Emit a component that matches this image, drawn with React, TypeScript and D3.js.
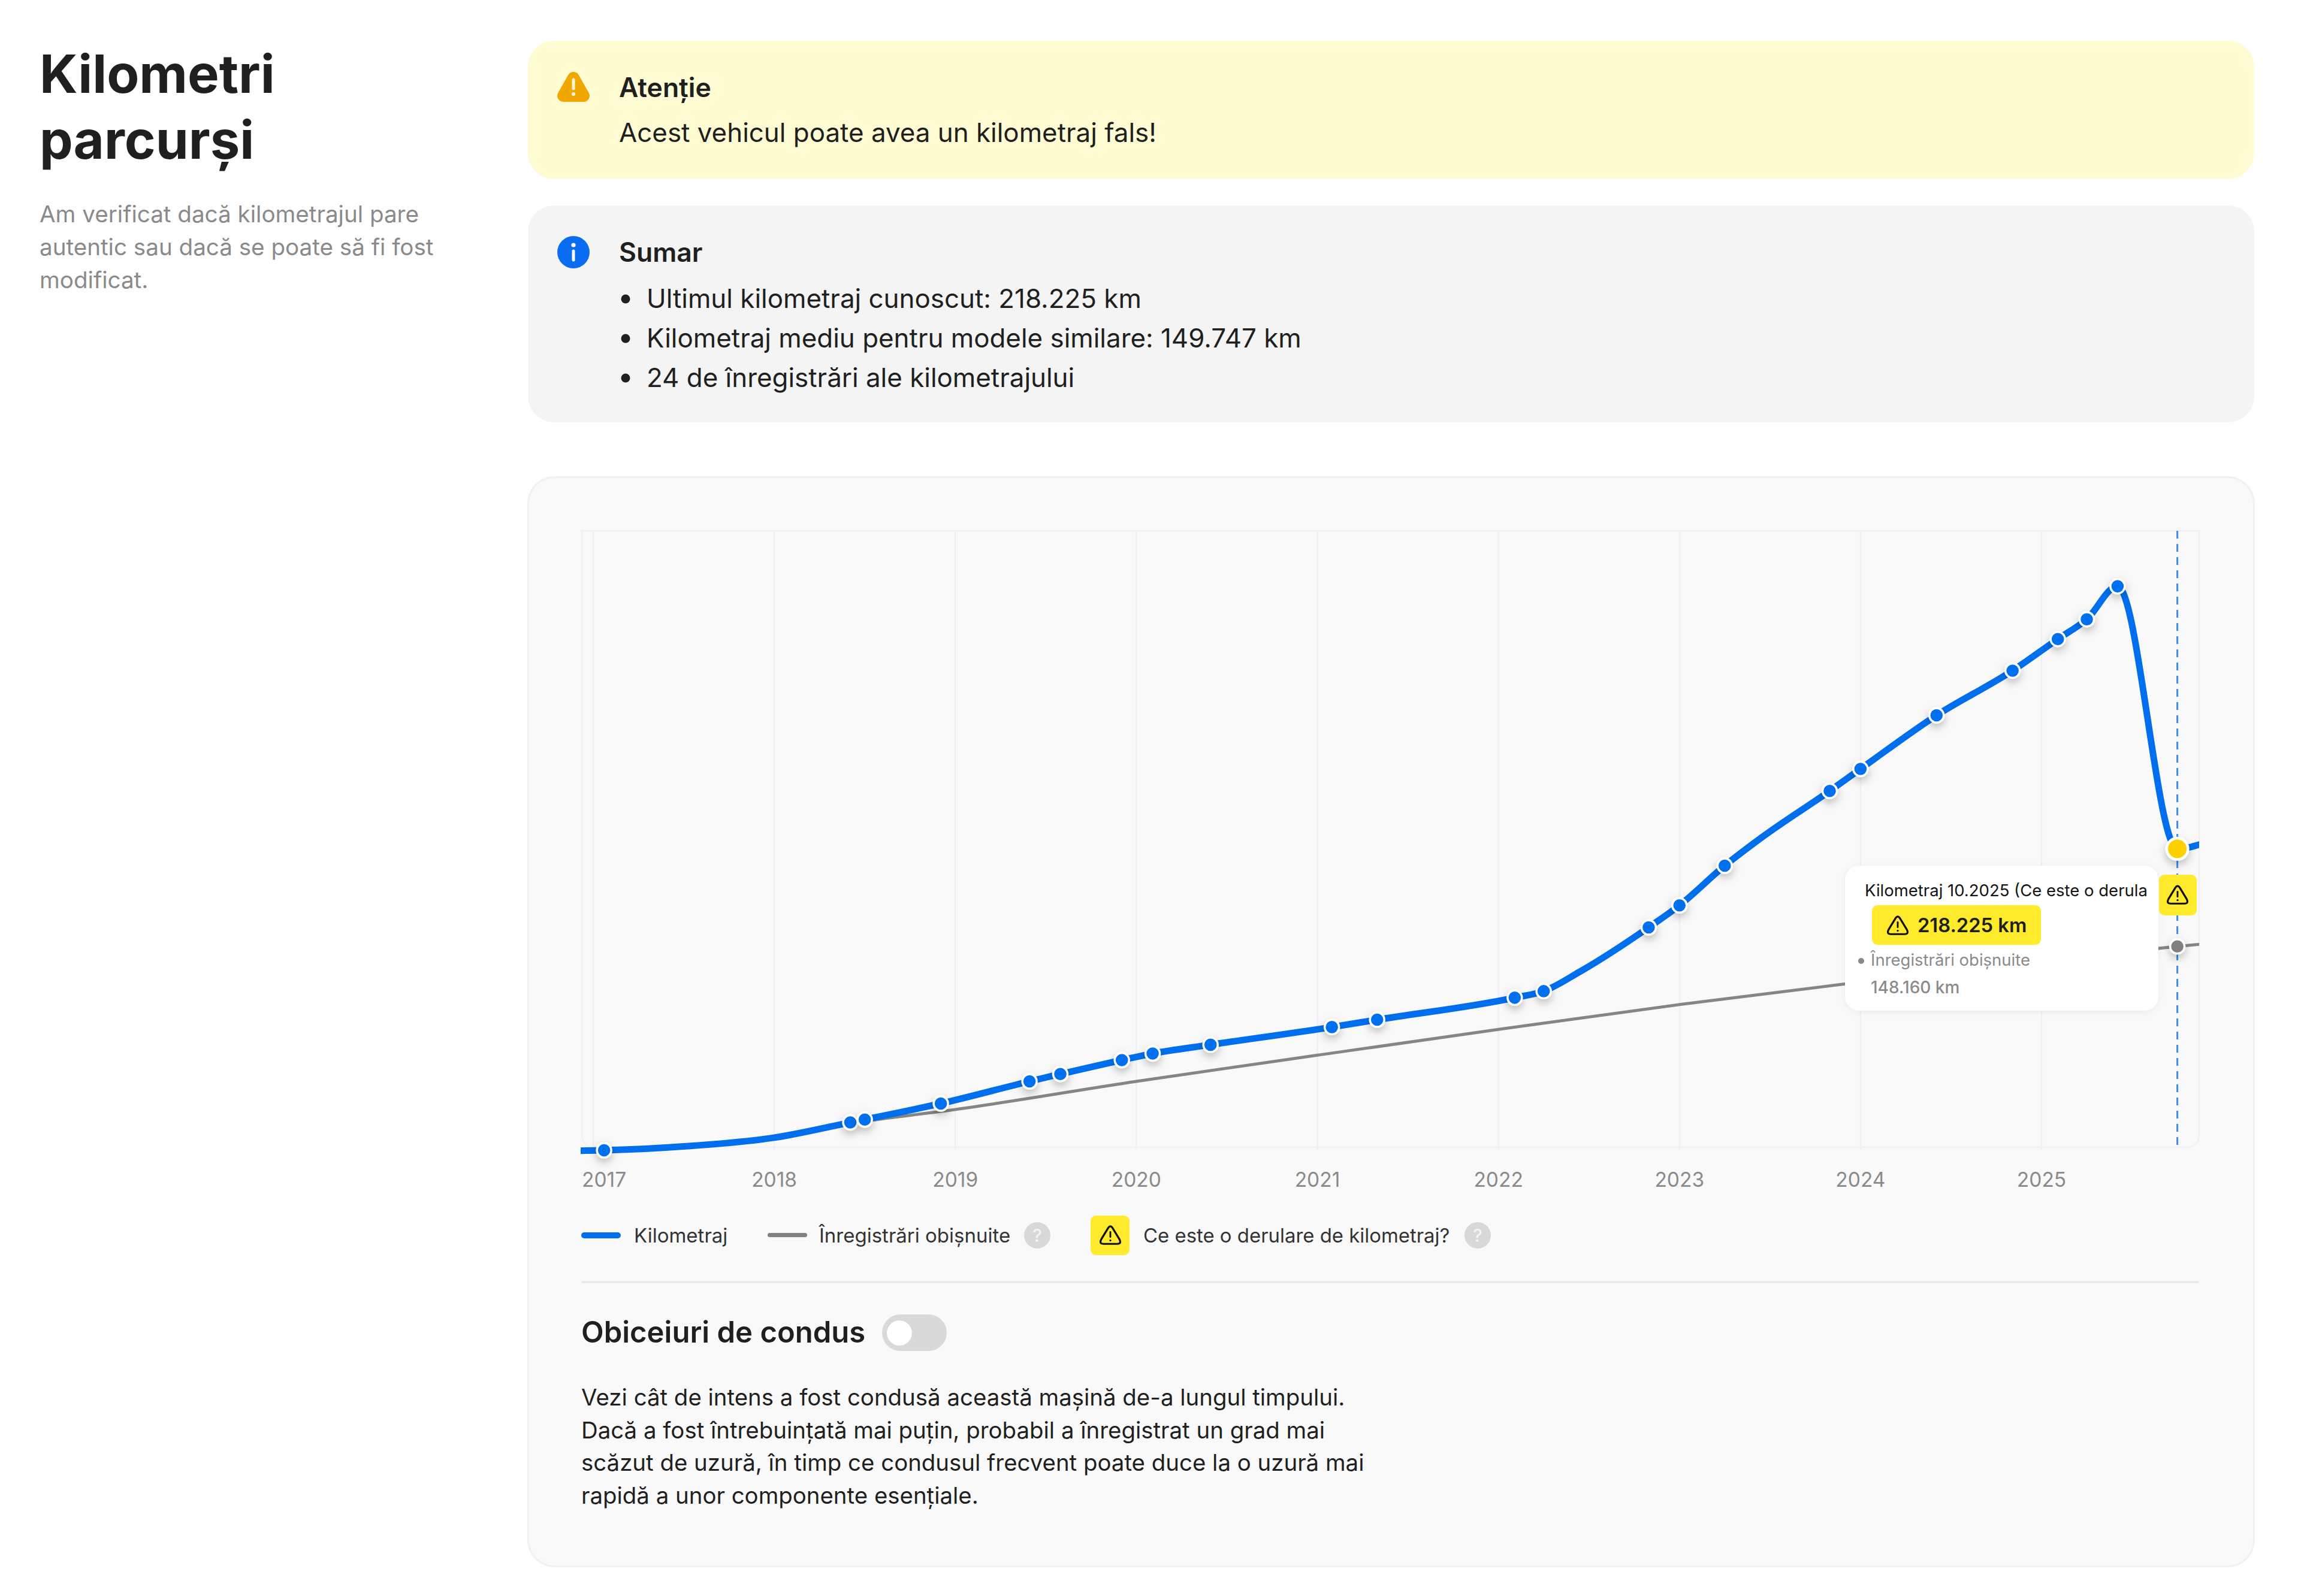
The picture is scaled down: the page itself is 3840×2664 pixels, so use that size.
import React from "react";
import * as d3 from "d3";

const pageTitle = ["Kilometri", "parcurși"];
const pageSubtitle = ["Am verificat dacă kilometrajul pare", "autentic sau dacă se poate să fi fost", "modificat."];
const summaryItems = [
  "Ultimul kilometraj cunoscut: 218.225 km",
  "Kilometraj mediu pentru modele similare: 149.747 km",
  "24 de înregistrări ale kilometrajului",
];
const bodyLines = [
  "Vezi cât de intens a fost condusă această mașină de-a lungul timpului.",
  "Dacă a fost întrebuințată mai puțin, probabil a înregistrat un grad mai",
  "scăzut de uzură, în timp ce condusul frecvent poate duce la o uzură mai",
  "rapidă a unor componente esențiale.",
];
const yearTicks = [2017, 2018, 2019, 2020, 2021, 2022, 2023, 2024, 2025];

const recordDates = [2017.06, 2018.42, 2018.5, 2018.92, 2019.41, 2019.58, 2019.92, 2020.09, 2020.41, 2021.08, 2021.33, 2022.09, 2022.25, 2022.83, 2023.0, 2023.25, 2023.83, 2024.0, 2024.42, 2024.84, 2025.09, 2025.25, 2025.42, 2025.75];
const recordKm = [1700, 21700, 23800, 35300, 51200, 56500, 66500, 71200, 77500, 90200, 95500, 111300, 116000, 161800, 177600, 206100, 259800, 275600, 314100, 346200, 368900, 383100, 406800, 218225];
// extra readings of the curve between records
const curveDates = [2016.8, 2017.5, 2018.0, 2022.45, 2023.45, 2025.9];
const curveKm = [1300, 4500, 10800, 130000, 226000, 222500];

const normalDates = [2016.8, 2017.5, 2018.0, 2018.5, 2019.0, 2020.0, 2021.0, 2022.0, 2023.0, 2024.0, 2025.0, 2025.75, 2025.9];
const normalKm = [1300, 4800, 11500, 22500, 31000, 51200, 70000, 88500, 106400, 122600, 136500, 148160, 150000];

const W = 3840, H = 2664;
const plot = { l: 971, r: 3670, t: 886, b: 1915 };
const x = d3.scaleLinear().domain([2017, 2025]).range([990, 3407]);
const y = d3.scaleLinear().domain([0, 400000]).range([1924, 994.4]);

const blue = "#006FEE";
const font = "Inter, 'Noto Sans', sans-serif";
const ink = "#1f1f1f";
const grey = "#8a8a8a";

type P = [number, number];
const zip = (a: number[], b: number[]): P[] => a.map((d, i) => [d, b[i]] as P);
const lineGen = d3.line<P>().x(d => x(d[0])).y(d => y(d[1])).curve(d3.curveMonotoneX);
const kmCurve = zip(recordDates.concat(curveDates), recordKm.concat(curveKm)).sort((a, b) => a[0] - b[0]);
const normalCurve = zip(normalDates, normalKm);

function Tri({ cx, cy, s = 1, stroke = "#111" }: { cx: number; cy: number; s?: number; stroke?: string }) {
  return (
    <g transform={`translate(${cx},${cy}) scale(${s})`} fill="none" stroke={stroke} strokeLinecap="round" strokeLinejoin="round">
      <path d="M-3.5,-13.5 Q0,-18.5 3.5,-13.5 L16,7 Q20,15 12,15 L-12,15 Q-20,15 -16,7 Z" strokeWidth={3.4} />
      <path d="M0,-6 L0,3" strokeWidth={3} />
      <circle cx={0} cy={9} r={1.3} fill={stroke} strokeWidth={1} />
    </g>
  );
}

function Help({ cx, cy }: { cx: number; cy: number }) {
  return (
    <g>
      <circle cx={cx} cy={cy} r={22} fill="#d8d8d8" />
      <text x={cx} y={cy + 11} textAnchor="middle" fontSize={30} fontWeight={500} fill="#f4f4f4">?</text>
    </g>
  );
}

export default function App() {
  return (
    <svg width={W} height={H} viewBox={`0 0 ${W} ${H}`} style={{ position: "absolute", left: 0, top: 0, display: "block", background: "#fff" }} fontFamily={font}>
      <defs>
        <filter id="ms" x="-100%" y="-100%" width="300%" height="300%">
          <feDropShadow dx={0} dy={6} stdDeviation={7} floodColor="#000" floodOpacity={0.25} />
        </filter>
        <filter id="ts" x="-10%" y="-10%" width="120%" height="120%">
          <feDropShadow dx={0} dy={2} stdDeviation={6} floodColor="#000" floodOpacity={0.06} />
        </filter>
        <clipPath id="plotClip">
          <rect x={plot.l - 2} y={plot.t} width={plot.r - plot.l + 2} height={1100} />
        </clipPath>
      </defs>

      {/* left column */}
      {pageTitle.map((t, i) => (
        <text key={t} x={66} y={155 + i * 110} fontSize={88.4} fontWeight={700} fill={ink}>{t}</text>
      ))}
      {pageSubtitle.map((t, i) => (
        <text key={t} x={66} y={371 + i * 55} fontSize={38.6} fill={grey}>{t}</text>
      ))}

      {/* warning */}
      <rect x={881} y={68} width={2881} height={231} rx={44} fill="#FFFBD3" />
      <path d="M957,130 L974,160 L940,160 Z" fill="#F0A800" stroke="#F0A800" strokeWidth={20} strokeLinejoin="round" />
      <path d="M957,133 L957,148" stroke="#FFF8D0" strokeWidth={5} strokeLinecap="round" />
      <circle cx={957} cy={157} r={3} fill="#FFF8D0" />
      <text x={1033} y={162} fontSize={44.5} fontWeight={600} fill={ink}>Atenție</text>
      <text x={1033} y={237} fontSize={43.9} fill={ink}>Acest vehicul poate avea un kilometraj fals!</text>

      {/* summary */}
      <rect x={881} y={343} width={2881} height={362} rx={44} fill="#F4F4F4" />
      <circle cx={957} cy={421} r={27} fill="#0A6CF0" />
      <circle cx={957} cy={409} r={3.6} fill="#fff" />
      <path d="M957,419 L957,434" stroke="#fff" strokeWidth={5} strokeLinecap="round" />
      <text x={1033} y={437} fontSize={44.5} fontWeight={600} fill={ink}>Sumar</text>
      {summaryItems.map((t, i) => (
        <g key={t}>
          <circle cx={1044} cy={499 + i * 66} r={7.5} fill={ink} />
          <text x={1079} y={514 + i * 66} fontSize={43.9} fill={ink}>{t}</text>
        </g>
      ))}

      {/* chart card */}
      <rect x={881.5} y={796.5} width={2880} height={1818} rx={44} fill="#F9F9F9" stroke="#F1F1F1" strokeWidth={3} />
      <path d={`M${plot.l},${plot.t} L${plot.r},${plot.t} L${plot.r},${plot.b - 22} Q${plot.r},${plot.b} ${plot.r - 22},${plot.b} L${plot.l + 22},${plot.b} Q${plot.l},${plot.b} ${plot.l},${plot.b - 22} Z`} fill="none" stroke="#F1F1F1" strokeWidth={2.5} />
      {yearTicks.map((t, i) => (
        <g key={t}>
          <line x1={x(t)} x2={x(t)} y1={plot.t} y2={plot.b + 4} stroke="#EDF1F5" strokeWidth={2.5} />
          <text x={i === 0 ? plot.l : x(t)} y={1981} fontSize={33.5} fill={grey} textAnchor={i === 0 ? "start" : "middle"}>{t}</text>
        </g>
      ))}
      <line x1={x(2025.75)} x2={x(2025.75)} y1={plot.t} y2={plot.b - 3} stroke="#3F8DF0" strokeWidth={3} strokeDasharray="13 9" />

      <g clipPath="url(#plotClip)">
        <path d={lineGen(normalCurve) ?? ""} fill="none" stroke="#858585" strokeWidth={5} />
        <path d={lineGen(kmCurve) ?? ""} fill="none" stroke={blue} strokeWidth={11} strokeLinejoin="round" />
      </g>

      {recordDates.slice(0, -1).map((d, i) => (
        <circle key={d} cx={x(d)} cy={y(recordKm[i])} r={12} fill={blue} stroke="#fff" strokeWidth={3.4} filter="url(#ms)" />
      ))}
      <circle cx={x(2025.75)} cy={y(218225)} r={17.75} fill="#FFD000" stroke="#fff" strokeWidth={4.5} filter="url(#ms)" />
      <circle cx={x(2025.75)} cy={y(148160)} r={12} fill="#808080" stroke="#fff" strokeWidth={3.4} filter="url(#ms)" />

      {/* tooltip */}
      <rect x={3079} y={1445} width={523} height={242} rx={24} fill="#fff" filter="url(#ts)" />
      <text x={3112} y={1496} fontSize={27.5} fontWeight={400} fill="#141414">Kilometraj 10.2025 (Ce este o derula</text>
      <rect x={3124} y={1511} width={282} height={66} rx={9} fill="#FFEB2B" />
      <Tri cx={3167} cy={1545} s={0.95} />
      <text x={3200} y={1556} fontSize={32.7} fontWeight={600} fill={ink}>218.225 km</text>
      <circle cx={3106} cy={1604} r={5} fill="#8a8a8a" />
      <text x={3122} y={1612} fontSize={27.5} fill={grey}>Înregistrări obișnuite</text>
      <text x={3122} y={1658} fontSize={28} fontWeight={500} fill={grey}>148.160 km</text>
      <rect x={3603} y={1460} width={63} height={68} rx={9} fill="#FFEB2B" />
      <Tri cx={3634} cy={1494} s={0.95} />

      {/* legend */}
      <rect x={970} y={2057} width={66} height={10} rx={5} fill={blue} />
      <text x={1058} y={2074} fontSize={33} fill="#333">Kilometraj</text>
      <rect x={1281} y={2058} width={66} height={7} rx={3.5} fill="#808080" />
      <text x={1367} y={2074} fontSize={33} fill="#333">Înregistrări obișnuite</text>
      <Help cx={1731} cy={2062} />
      <rect x={1820} y={2029} width={65} height={66} rx={9} fill="#FFEB2B" />
      <Tri cx={1853} cy={2062} s={0.95} />
      <text x={1908} y={2074} fontSize={32.9} fill="#333">Ce este o derulare de kilometraj?</text>
      <Help cx={2466} cy={2062} />

      <line x1={970} x2={3670} y1={2140} y2={2140} stroke="#E6E6E6" strokeWidth={3} />

      <text x={970} y={2241} fontSize={49} fontWeight={600} fill={ink}>Obiceiuri de condus</text>
      <rect x={1472} y={2194} width={108} height={61} rx={30.5} fill="#D9D9D9" />
      <circle cx={1501} cy={2225} r={21} fill="#fff" />
      {bodyLines.map((t, i) => (
        <text key={t} x={970} y={2346 + i * 54.7} fontSize={38.4} fill={ink}>{t}</text>
      ))}
    </svg>
  );
}
